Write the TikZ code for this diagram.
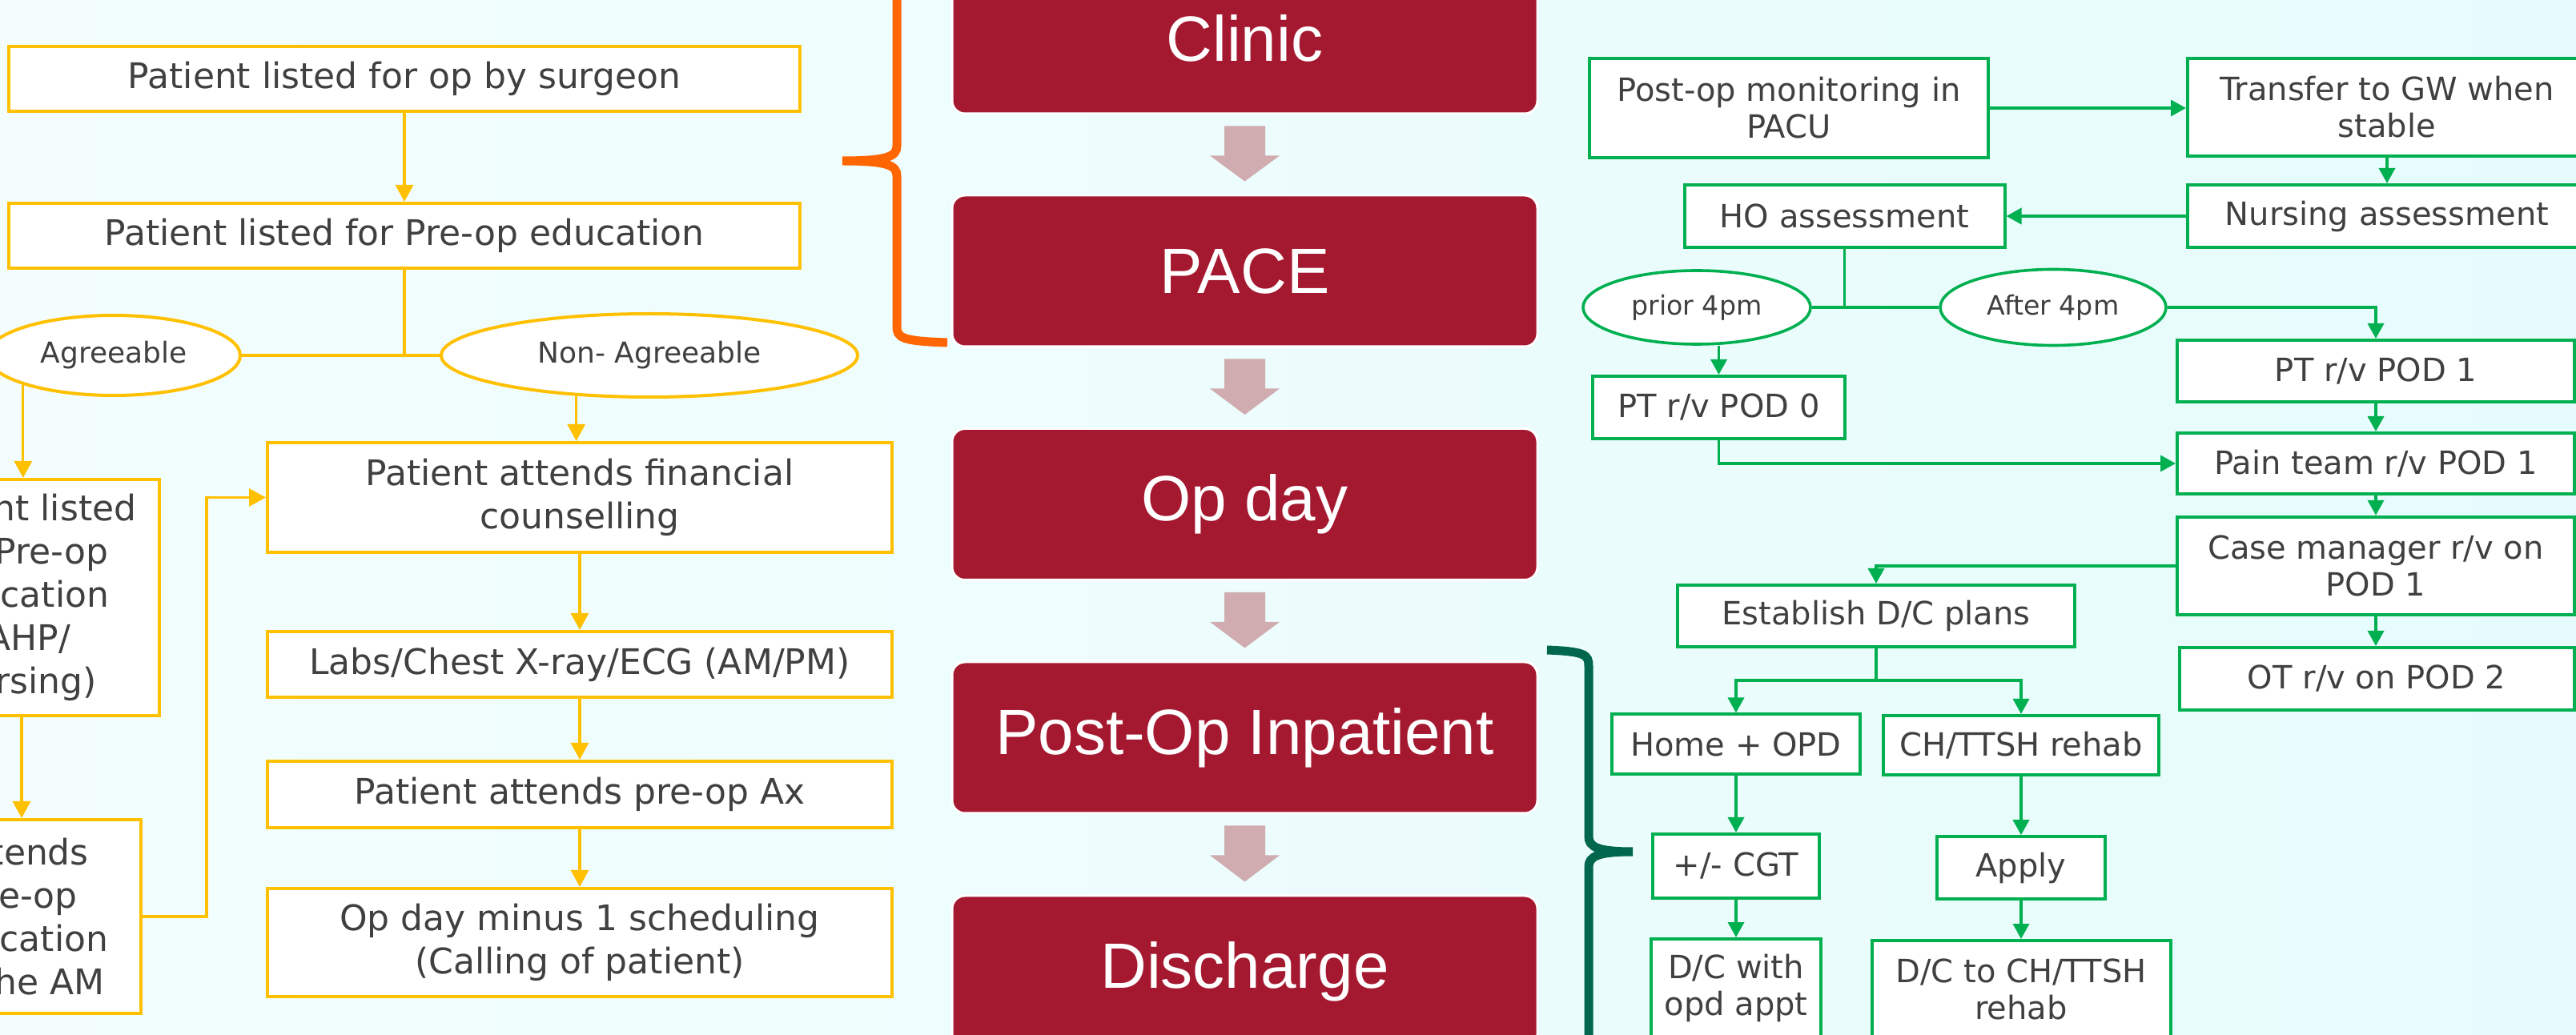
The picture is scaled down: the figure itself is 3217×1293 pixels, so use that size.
\documentclass[tikz,border=0pt]{standalone}
\usepackage{fontspec}
\setmainfont{DejaVu Sans}
\newfontfamily\redfont{Liberation Sans}
\usetikzlibrary{shapes.geometric,arrows.meta,calc}
\definecolor{ycol}{RGB}{255,192,0}
\definecolor{gcol}{RGB}{0,176,80}
\definecolor{rcol}{RGB}{165,25,48}
\definecolor{pcol}{RGB}{208,172,176}
\definecolor{tcol}{RGB}{64,64,64}
\definecolor{ocol}{RGB}{255,102,0}
\definecolor{dgcol}{RGB}{0,102,76}
\definecolor{bgl}{RGB}{243,253,253}
\definecolor{bgr}{RGB}{230,252,252}
\newcommand\pinkarrow[2]{%
  \fill[pcol] ($(#1.south)+(-25.5,14)$) -- ($(#1.south)+(25.5,14)$) -- ($(#1.south)+(25.5,51)$)
   -- ($(#1.south)+(43.5,51)$) -- ($(#2.north)+(0,-16)$) -- ($(#1.south)+(-43.5,51)$)
   -- ($(#1.south)+(-25.5,51)$) -- cycle;}
\begin{document}
\begin{tikzpicture}[x=0.25pt,y=-0.25pt,
  sz/.style 2 args={minimum width=#1,minimum height=#2},
  ybox/.style={draw=ycol,line width=1pt,fill=white,inner sep=0pt,align=center,text=tcol,font=\fontsize{11}{13.5}\selectfont},
  yell/.style={ellipse,draw=ycol,line width=1pt,fill=white,inner sep=0pt,text=tcol,font=\fontsize{9}{11}\selectfont},
  gbox/.style={draw=gcol,line width=1pt,fill=white,inner sep=0pt,align=center,text=tcol,font=\fontsize{10}{11.5}\selectfont},
  gell/.style={ellipse,draw=gcol,line width=0.9pt,fill=white,inner sep=0pt,text=tcol,font=\fontsize{8.3}{10}\selectfont},
  rbox/.style={draw=white,line width=0.75pt,fill=rcol,rounded corners=4pt,inner sep=0pt,text=white,
     minimum width=182.75pt,minimum height=47.25pt,font=\redfont\fontsize{20}{24}\selectfont},
  yline/.style={draw=ycol,line width=0.8pt},
  yarr/.style={yline,-{Triangle[length=5.25pt,width=5.5pt]}},
  gline/.style={draw=gcol,line width=0.9pt},
  garr/.style={gline,-{Triangle[length=4.75pt,width=5pt]}}]
\path[use as bounding box] (0,0) rectangle (3217,1293);
\clip (0,0) rectangle (3217,1293);
\shade[left color=bgl,right color=bgr] (0,0) rectangle (3217,1293);

% braces
\draw[ocol,line width=2.75pt] (1183,-26) .. controls (1125,-24) and (1120,-20) .. (1120,-5) -- (1120,182)
  .. controls (1120,195) and (1110,201) .. (1052,201) .. controls (1110,201) and (1120,207) .. (1120,220)
  -- (1120,407) .. controls (1120,422) and (1125,426) .. (1183,428);
\draw[dgcol,line width=2.75pt] (1932,812) .. controls (1980,814) and (1984,818) .. (1984,832) -- (1984,1045)
  .. controls (1984,1058) and (1995,1064) .. (2039,1064) .. controls (1995,1064) and (1984,1070) .. (1984,1083)
  -- (1984,1296) .. controls (1984,1310) and (1980,1314) .. (1932,1316);

% left (yellow) flow
\node[ybox,sz={247pt}{20.25pt}] (y1) at (505,98.5) {Patient listed for op by surgeon};
\node[ybox,sz={247pt}{20.25pt}] (y2) at (505,294.5) {Patient listed for Pre-op education};
\node[yell,sz={79pt}{25pt}] (agree) at (142,444) {Agreeable};
\node[yell,sz={130pt}{26pt}] (nonag) at (811,444) {Non- Agreeable};
\node[ybox,sz={86pt}{73.75pt}] (yA) at (27,746.5) {Patient listed\\for Pre-op\\education\\(AHP/\\Nursing)};
\node[ybox,sz={75pt}{60.5pt}] (yB) at (26,1145) {Attends\\Pre-op\\education\\in the AM};
\node[ybox,sz={195pt}{34.25pt}] (fin) at (724,621.5) {Patient attends financial\\counselling};
\node[ybox,sz={195pt}{20.5pt}] (labs) at (724,830) {Labs/Chest X-ray/ECG (AM/PM)};
\node[ybox,sz={195pt}{20.75pt}] (preax) at (724,992.5) {Patient attends pre-op Ax};
\node[ybox,sz={195pt}{33.75pt}] (opm1) at (724,1177.5) {Op day minus 1 scheduling\\(Calling of patient)};

\draw[yarr] (y1) -- (y2);
\draw[yline] (y2.south) -- (y2.south |- agree.east);
\draw[yline] (agree.east) -- (nonag.west);
\draw[yarr] (agree.198) -- (agree.198 |- yA.north);
\draw[yarr] (nonag.209) -- (nonag.209 |- fin.north);
\draw[yarr] (yA.south) -- (yA.south |- yB.north);
\draw[yarr] (yB.east) -- ++(80,0) |- (fin.west);
\draw[yarr] (fin) -- (labs);
\draw[yarr] (labs) -- (preax);
\draw[yarr] (preax) -- (opm1);

% centre column
\node[rbox] (clinic) at (1554.5,47.5) {Clinic};
\node[rbox] (pace) at (1554.5,338.5) {PACE};
\node[rbox] (opday) at (1554.5,630) {Op day};
\node[rbox] (postop) at (1554.5,921.5) {Post-Op Inpatient};
\node[rbox] (disch) at (1554.5,1213.5) {Discharge};
\pinkarrow{clinic}{pace}
\pinkarrow{pace}{opday}
\pinkarrow{opday}{postop}
\pinkarrow{postop}{disch}

% right (green) flow
\node[gbox,sz={124.5pt}{31pt}] (g1) at (2234,135) {Post-op monitoring in\\PACU};
\node[gbox,sz={124.5pt}{30.5pt}] (g2) at (2981,134) {Transfer to GW when\\stable};
\node[gbox,sz={124.5pt}{19.5pt}] (g3) at (2981,270) {Nursing assessment};
\node[gbox,sz={100pt}{19.5pt}] (g4) at (2303.5,270) {HO assessment};
\node[gell,sz={71pt}{23pt}] (prior) at (2119,384) {prior 4pm};
\node[gell,sz={70.5pt}{23.75pt}] (after) at (2564,384) {After 4pm};
\node[gbox,sz={78.75pt}{19.5pt}] (g5) at (2146.5,509) {PT r/v POD 0};
\node[gbox,sz={124pt}{19.25pt}] (g6) at (2967,463.5) {PT r/v POD 1};
\node[gbox,sz={124pt}{19pt}] (g7) at (2967,579) {Pain team r/v POD 1};
\node[gbox,sz={124pt}{30.6pt}] (g8) at (2967,707) {Case manager r/v on\\POD 1};
\node[gbox,sz={123.25pt}{19.5pt}] (g9) at (2968,848) {OT r/v on POD 2};
\node[gbox,sz={124pt}{19.25pt}] (g10) at (2343,769.5) {Establish D/C plans};
\node[gbox,sz={77.5pt}{18.75pt}] (g11) at (2168,930) {Home + OPD};
\node[gbox,sz={86pt}{18.5pt}] (g12) at (2524,931) {CH/TTSH rehab};
\node[gbox,sz={52pt}{20pt}] (g13) at (2168,1082) {+/- CGT};
\node[gbox,sz={52.5pt}{19.4pt}] (g14) at (2524,1084) {Apply};
\node[gbox,sz={53pt}{30.5pt}] (g15) at (2168,1234) {D/C with\\opd appt};
\node[gbox,sz={93.25pt}{30.5pt}] (g16) at (2524,1236) {D/C to CH/TTSH\\rehab};
\coordinate (split) at (2343,850);

\draw[garr] (g1.east) -- (g1.east -| g2.west);
\draw[garr] (g2) -- (g3);
\draw[garr] (g3) -- (g4);
\draw[gline] (g4.south) -- (g4.south |- prior.east);
\draw[gline] (prior.east) -- (after.west);
\draw[garr] (after.east) -| (g6.north);
\draw[garr] (g5.north |- prior.south) -- (g5.north);
\draw[garr] (g6) -- (g7);
\draw[garr] (g7) -- (g8);
\draw[garr] (g8.south) -- (g8.south |- g9.north);
\draw[garr] (g5.south) |- (g7.west);
\draw[garr] (g8.west) -| (g10.north);
\draw[gline] (g10.south) -- (split);
\draw[garr] (split) -| (g11.north);
\draw[garr] (split) -| (g12.north);
\draw[garr] (g11) -- (g13);
\draw[garr] (g13) -- (g15);
\draw[garr] (g12) -- (g14);
\draw[garr] (g14) -- (g16);
\end{tikzpicture}
\end{document}
